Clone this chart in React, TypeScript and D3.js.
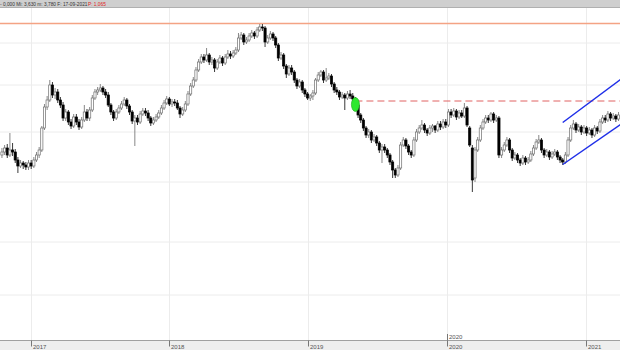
import React from "react";
import * as d3 from "d3";

const W = 620;
const H = 350;

const firstWeek = "2016-10-17";

const open = [
  195,198,202,195,200,198,190,184,187,185,
  183,187,184,190,195,200,222,243,250,265,
  255,258,250,245,232,238,228,224,233,228,
  223,230,238,232,240,252,258,260,262,258,
  255,245,238,232,238,242,246,250,244,238,
  229,232,228,236,239,237,232,227,230,233,
  237,242,247,251,246,248,247,242,236,240,
  246,256,264,270,280,288,293,290,295,288,
  290,282,288,292,287,293,296,294,297,300,
  312,315,308,310,314,317,314,320,323,322,
  308,312,316,312,305,292,295,284,276,282,
  278,270,264,268,260,256,
  252,
  254,257,270,275,
  278,270,272,274,266,260,258,253,255,252,
  256,254,251,245,235,230,222,215,218,210,
  213,207,200,203,200,195,188,180,175,182,
  205,210,204,198,195,210,218,222,225,220,
  217,222,224,220,226,223,228,225,238,235,239,
  233,237,234,242,222,202,172,200,210,222,
  228,232,230,236,230,232,195,200,205,210,
  200,192,195,190,187,192,188,190,196,202,
  208,210,200,195,198,193,196,198,193,190,
  188,195,210,222,226,220,223,218,222,217,
  220,215,222,219,228,232,230,236,232,234,
  231,
];

const high = [
  202,205,206,217,207,201,193,190,189,188,
  190,190,193,198,203,224,246,254,270,268,
  262,261,253,248,241,240,231,236,236,231,
  233,245,241,243,255,261,263,266,264,261,
  258,247,240,241,245,249,253,252,246,240,
  235,235,239,242,242,240,234,233,236,240,
  245,250,254,253,251,251,250,244,243,249,
  259,267,273,283,291,296,296,302,297,293,
  292,291,295,294,296,300,299,300,303,317,
  318,317,313,317,320,319,323,326,326,324,
  315,319,318,314,307,298,297,286,285,285,
  280,272,271,270,262,258,
  256,
  260,272,278,280,
  280,282,277,276,268,263,260,258,257,259,
  260,257,253,247,237,232,224,221,220,216,
  215,209,206,206,202,197,190,182,185,208,
  213,212,206,200,213,221,225,230,227,222,
  225,226,225,229,229,231,231,241,241,242,241,
  240,240,247,244,224,205,203,213,225,231,
  235,235,238,238,235,234,203,208,213,212,
  202,198,197,192,195,194,193,199,205,211,
  215,212,202,201,200,199,201,200,195,192,
  198,213,225,230,228,226,225,225,224,223,
  222,225,224,231,235,235,239,238,237,236,
  238,
];

const low = [
  192,195,192,193,194,187,177,182,181,180,
  180,181,182,188,192,198,220,240,248,252,
  251,247,242,229,229,225,221,222,225,220,
  221,228,229,229,238,250,255,258,255,252,
  243,235,229,230,236,240,244,241,235,226,
  204,225,226,234,234,229,224,225,228,231,
  235,240,245,244,243,244,240,232,234,238,
  244,254,262,268,278,286,287,288,285,285,
  278,280,286,284,285,291,291,292,295,298,
  310,305,306,308,312,311,312,318,319,303,
  306,310,309,302,289,290,281,272,274,275,
  267,261,262,257,253,250,
  249,
  250,255,268,273,
  267,268,270,263,257,255,250,251,240,250,
  251,248,242,232,227,219,212,212,207,208,
  204,197,187,197,192,185,172,172,173,180,
  203,201,195,192,193,208,216,220,217,214,
  215,218,217,218,220,221,222,223,232,233,230,
  231,232,232,223,203,158,168,198,208,220,
  226,227,228,227,228,192,192,198,203,197,
  189,190,187,184,185,185,186,188,194,200,
  206,197,192,193,190,191,194,190,187,185,
  186,193,208,220,217,218,215,216,214,215,
  212,213,216,217,226,227,228,229,230,228,
  229,
];

const close = [
  198,202,195,200,198,190,184,187,185,183,
  187,184,190,195,200,222,243,250,265,255,
  258,250,245,232,238,228,224,233,228,223,
  230,238,232,240,252,258,260,262,258,255,
  245,238,232,238,242,246,250,244,238,229,
  232,228,236,239,237,232,227,230,233,237,
  242,247,251,246,248,247,242,236,240,246,
  256,264,270,280,288,293,290,295,288,290,
  282,288,292,287,293,296,294,297,300,312,
  315,308,310,314,317,314,320,323,322,308,
  312,316,312,305,292,295,284,276,282,278,
  270,264,268,260,256,252,
  254,
  257,270,275,278,
  270,272,274,266,260,258,253,255,252,256,
  254,251,245,235,230,222,215,218,210,213,
  207,200,203,200,195,188,180,175,182,205,
  210,204,198,195,210,218,222,225,220,217,
  222,224,220,226,223,228,225,238,235,239,233,
  237,234,242,225,205,170,200,210,222,228,
  232,230,236,230,232,195,200,205,210,200,
  192,195,190,187,192,188,190,196,202,208,
  210,200,195,198,193,196,198,193,190,188,
  195,210,222,226,220,223,218,222,217,220,
  215,222,219,228,232,230,236,232,234,231,
  235,
];

const yearLabels = ["2017", "2018", "2019", "2020", "2021"];
const cursorYear = "2020";
const gridPrices = [307, 265, 218, 168, 108, 55];
const athPrice = 326.5;
const resistancePrice = 249;
const markerDate = "2019-05-06";
const markerPrice = 245.5;
const channelUpper = [
  { date: "2020-11-02", price: 227.5 },
  { date: "2021-04-05", price: 271 },
];
const channelLower = [
  { date: "2020-11-02", price: 185.5 },
  { date: "2021-04-05", price: 226 },
];
const headerText = "- 0,000  Mi: 3,630  m: 3,780  F: 17-09-2021";
const headerRed = "P: 1,065";

export default function App() {
  const parse = d3.timeParse("%Y-%m-%d");
  const start = parse(firstWeek) as Date;
  const x = d3
    .scaleTime()
    .domain([new Date(2017, 0, 1), new Date(2021, 0, 1)])
    .range([30.8, 585.5]);
  const y = d3.scaleLinear().domain([0, 350]).range([H, 0]);

  const candles = close.map((c, i) => ({
    date: d3.timeWeek.offset(start, i),
    o: open[i],
    h: high[i],
    l: low[i],
    c,
  }));

  const line = d3
    .line<{ date: string; price: number }>()
    .x((d) => x(parse(d.date) as Date))
    .y((d) => y(d.price));

  const axisTop = 340.5;
  const bodyW = 2.2;

  return (
    <svg
      width={W}
      height={H}
      style={{ position: "absolute", left: 0, top: 0, background: "#fff" }}
      fontFamily="Liberation Sans, Arial, sans-serif"
    >
      <rect x={0} y={0} width={W} height={H} fill="#fff" />
      {gridPrices.map((p) => (
        <line key={"g" + p} x1={0} x2={W} y1={y(p)} y2={y(p)} stroke="#ececec" strokeWidth={1} />
      ))}
      {yearLabels.map((yr) => {
        const xx = Math.round(x(new Date(+yr, 0, 1))) + 0.5;
        return <line key={"v" + yr} x1={xx} x2={xx} y1={8} y2={axisTop} stroke="#ececec" strokeWidth={1} />;
      })}
      <line x1={0} x2={W} y1={y(athPrice)} y2={y(athPrice)} stroke="#f4a384" strokeWidth={1.3} />
      <line
        x1={x(parse(markerDate) as Date)}
        x2={W}
        y1={y(resistancePrice)}
        y2={y(resistancePrice)}
        stroke="#e06262"
        strokeWidth={1}
        strokeDasharray="7,4"
      />
      {candles.map((d, i) => {
        const cx = x(d.date);
        const up = d.c >= d.o;
        const top = y(Math.max(d.o, d.c));
        const bot = y(Math.min(d.o, d.c));
        return (
          <g key={i}>
            <line x1={cx} x2={cx} y1={y(d.h)} y2={y(d.l)} stroke={up ? "#7a7a7a" : "#222"} strokeWidth={0.9} />
            <rect
              x={cx - bodyW / 2}
              y={top}
              width={bodyW}
              height={Math.max(1, bot - top)}
              fill={up ? "#fff" : "#000"}
              stroke={up ? "#6e6e6e" : "#000"}
              strokeWidth={0.7}
            />
          </g>
        );
      })}
      <ellipse
        cx={x(parse(markerDate) as Date)}
        cy={y(markerPrice)}
        rx={4}
        ry={7}
        fill="#2ee82e"
        stroke="#1aa81a"
        strokeWidth={0.6}
      />
      <path d={line(channelUpper) || ""} stroke="#1f2fe8" strokeWidth={1.5} fill="none" />
      <path d={line(channelLower) || ""} stroke="#1f2fe8" strokeWidth={1.5} fill="none" />
      <rect x={0} y={0} width={W} height={7} fill="#cfcfcf" />
      <line x1={0} x2={W} y1={7.5} y2={7.5} stroke="#b0b0b0" strokeWidth={1} />
      <text x={0} y={5.6} fontSize={4.8} fill="#333">
        {headerText}
      </text>
      <text x={88} y={5.6} fontSize={4.8} fill="#e02020">
        {headerRed}
      </text>
      <rect x={0} y={axisTop} width={W} height={H - axisTop} fill="#eeeeee" />
      <line x1={0} x2={W} y1={axisTop} y2={axisTop} stroke="#a0a0a0" strokeWidth={1} />
      {yearLabels.map((yr) => {
        const xx = Math.round(x(new Date(+yr, 0, 1))) + 0.5;
        return (
          <g key={"t" + yr}>
            <line x1={xx} x2={xx} y1={axisTop} y2={axisTop + 6} stroke="#777" strokeWidth={1} />
            <text x={xx + 1.5} y={348.5} fontSize={6} fill="#555">
              {yr}
            </text>
          </g>
        );
      })}
      {(() => {
        const xx = Math.round(x(new Date(+cursorYear, 0, 1))) + 0.5;
        return (
          <g>
            <line x1={xx} x2={xx} y1={334} y2={axisTop} stroke="#777" strokeWidth={1} />
            <text x={xx + 1.5} y={338.5} fontSize={6} fill="#555">
              {cursorYear}
            </text>
          </g>
        );
      })()}
    </svg>
  );
}
